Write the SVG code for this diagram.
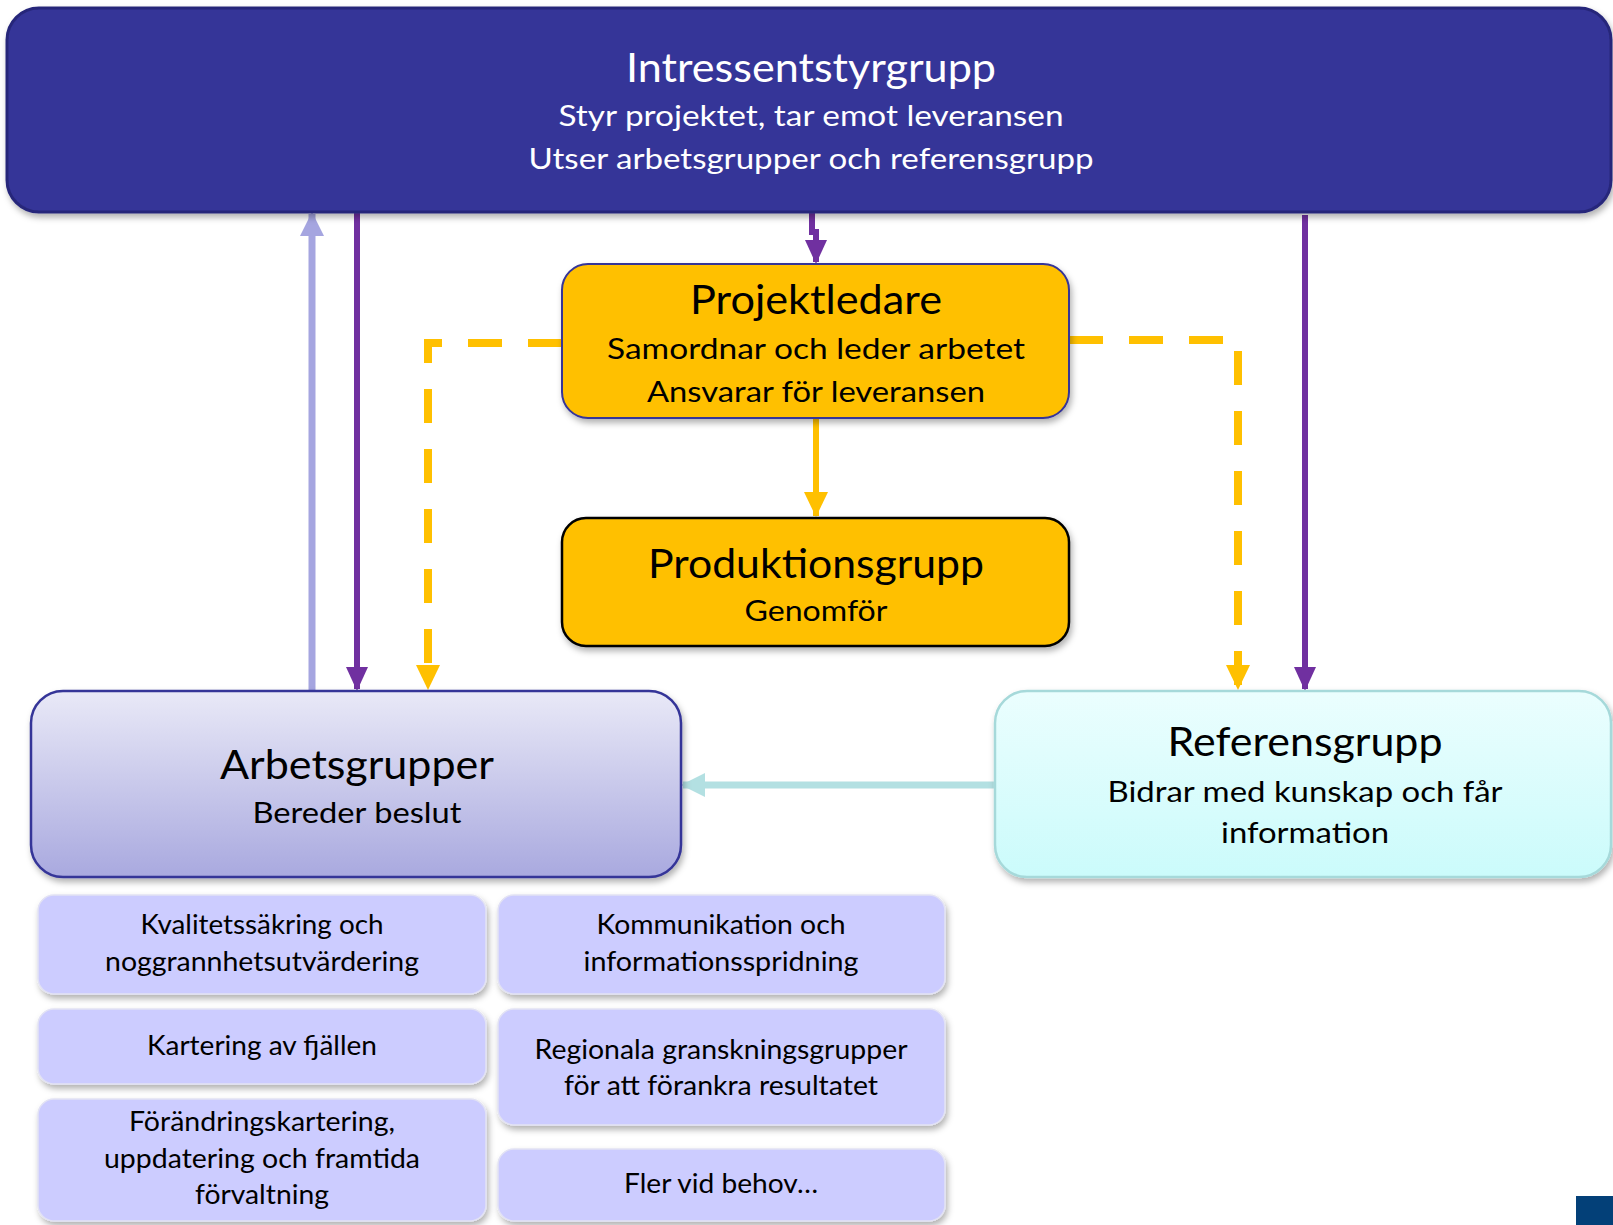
<svg xmlns="http://www.w3.org/2000/svg" width="1613" height="1225" viewBox="0 0 1613 1225">
<defs>
<style>
text{font-family:Lato,"Open Sans","Liberation Sans",sans-serif;text-anchor:middle;fill:#000}
.w{fill:#fff}
.t{font-size:41px}
.s{font-size:29px}
.m{font-size:26px}
.sb{fill:#CCCCFF;stroke:#E2E2F4;stroke-width:1.5}
.pur{stroke:#7030A0;stroke-width:6;fill:none}
.yel{stroke:#FFC000;stroke-width:6;fill:none}
.dash{stroke-width:8;stroke-dasharray:34 26}
</style>
<linearGradient id="gA" x1="0" y1="0" x2="0" y2="1"><stop offset="0" stop-color="#E9E9F7"/><stop offset="1" stop-color="#A9A9DF"/></linearGradient>
<linearGradient id="gR" x1="0" y1="0" x2="0" y2="1"><stop offset="0" stop-color="#EBFEFE"/><stop offset="1" stop-color="#CBFBFB"/></linearGradient>
<filter id="sh" x="-5%" y="-10%" width="110%" height="125%"><feDropShadow dx="2" dy="4" stdDeviation="3" flood-color="#000" flood-opacity="0.3"/></filter>
<marker id="mP" markerUnits="userSpaceOnUse" markerWidth="24" markerHeight="26" refX="22" refY="11" orient="auto"><path d="M0,0 L24,11 L0,22 Z" fill="#7030A0"/></marker>
<marker id="mY" markerUnits="userSpaceOnUse" markerWidth="26" markerHeight="26" refX="24" refY="12" orient="auto"><path d="M0,0 L25,12 L0,24 Z" fill="#FFC000"/></marker>
<marker id="mL" markerUnits="userSpaceOnUse" markerWidth="24" markerHeight="26" refX="22" refY="12" orient="auto"><path d="M0,0 L24,12 L0,24 Z" fill="#A5A5E0"/></marker>
<marker id="mC" markerUnits="userSpaceOnUse" markerWidth="24" markerHeight="26" refX="22" refY="12" orient="auto"><path d="M0,0 L24,12 L0,24 Z" fill="#B3E0E2"/></marker>
</defs>
<rect width="1613" height="1225" fill="#fff"/>

<g id="connectors">
<path d="M312,691 V214" stroke="#A5A5E0" stroke-width="7" fill="none" marker-end="url(#mL)"/>
<path d="M357,212 V689" class="pur" marker-end="url(#mP)"/>
<path d="M812,212 V232 H816 V262" class="pur" marker-end="url(#mP)"/>
<path d="M1305,215 V689" class="pur" marker-end="url(#mP)"/>
<path d="M816,418 V516" class="yel" marker-end="url(#mY)"/>
<path d="M562,343 H428 V689" class="yel dash" marker-end="url(#mY)"/>
<path d="M1069,340 H1238 V689" class="yel dash" marker-end="url(#mY)"/>
<path d="M995,785 H683" stroke="#B3E0E2" stroke-width="7" fill="none" marker-end="url(#mC)"/>
</g>

<g id="intressentstyrgrupp">
<rect x="7" y="8" width="1604" height="204" rx="32" fill="#343498" stroke="#28287A" stroke-width="3" filter="url(#sh)"/>
<text x="811" y="82" class="t w" textLength="370" lengthAdjust="spacingAndGlyphs">Intressentstyrgrupp</text>
<text x="811" y="126" class="s w" textLength="505" lengthAdjust="spacingAndGlyphs">Styr projektet, tar emot leveransen</text>
<text x="811" y="169" class="s w" textLength="565" lengthAdjust="spacingAndGlyphs">Utser arbetsgrupper och referensgrupp</text>
</g>

<g id="projektledare">
<rect x="562" y="264" width="507" height="154" rx="26" fill="#FFC000" stroke="#343498" stroke-width="2" filter="url(#sh)"/>
<text x="816" y="314" class="t" textLength="252" lengthAdjust="spacingAndGlyphs">Projektledare</text>
<text x="816" y="359" class="s" textLength="418" lengthAdjust="spacingAndGlyphs">Samordnar och leder arbetet</text>
<text x="816" y="402" class="s" textLength="338" lengthAdjust="spacingAndGlyphs">Ansvarar för leveransen</text>
</g>

<g id="produktionsgrupp">
<rect x="562" y="518" width="507" height="128" rx="24" fill="#FFC000" stroke="#000" stroke-width="2.5" filter="url(#sh)"/>
<text x="816" y="578" class="t" textLength="336" lengthAdjust="spacingAndGlyphs">Produktionsgrupp</text>
<text x="816" y="621" class="s" textLength="143" lengthAdjust="spacingAndGlyphs">Genomför</text>
</g>

<g id="arbetsgrupper">
<rect x="31" y="691" width="650" height="186" rx="32" fill="url(#gA)" stroke="#343498" stroke-width="2.5" filter="url(#sh)"/>
<text x="357" y="779" class="t" textLength="274" lengthAdjust="spacingAndGlyphs">Arbetsgrupper</text>
<text x="357" y="823" class="s" textLength="209" lengthAdjust="spacingAndGlyphs">Bereder beslut</text>
</g>

<g id="referensgrupp">
<rect x="995" y="691" width="616" height="186" rx="32" fill="url(#gR)" stroke="#A6D9DA" stroke-width="2.5" filter="url(#sh)"/>
<text x="1305" y="756" class="t" textLength="275" lengthAdjust="spacingAndGlyphs">Referensgrupp</text>
<text x="1305" y="802" class="s" textLength="395" lengthAdjust="spacingAndGlyphs">Bidrar med kunskap och får</text>
<text x="1305" y="843" class="s" textLength="168" lengthAdjust="spacingAndGlyphs">information</text>
</g>

<g id="kvalitetssakring">
<rect x="38" y="895" width="448" height="99" rx="16" class="sb" filter="url(#sh)"/>
<text x="262" y="934" class="m" textLength="243" lengthAdjust="spacingAndGlyphs">Kvalitetssäkring och</text>
<text x="262" y="971" class="m" textLength="314" lengthAdjust="spacingAndGlyphs">noggrannhetsutvärdering</text>
</g>

<g id="kommunikation">
<rect x="498" y="895" width="447" height="99" rx="16" class="sb" filter="url(#sh)"/>
<text x="721" y="934" class="m" textLength="249" lengthAdjust="spacingAndGlyphs">Kommunikation och</text>
<text x="721" y="971" class="m" textLength="275" lengthAdjust="spacingAndGlyphs">informationsspridning</text>
</g>

<g id="kartering">
<rect x="38" y="1009" width="448" height="75" rx="16" class="sb" filter="url(#sh)"/>
<text x="262" y="1055" class="m" textLength="230" lengthAdjust="spacingAndGlyphs">Kartering av fjällen</text>
</g>

<g id="forandringskartering">
<rect x="38" y="1099" width="448" height="122" rx="16" class="sb" filter="url(#sh)"/>
<text x="262" y="1131" class="m" textLength="266" lengthAdjust="spacingAndGlyphs">Förändringskartering,</text>
<text x="262" y="1168" class="m" textLength="316" lengthAdjust="spacingAndGlyphs">uppdatering och framtida</text>
<text x="262" y="1204" class="m" textLength="134" lengthAdjust="spacingAndGlyphs">förvaltning</text>
</g>

<g id="regionala">
<rect x="498" y="1009" width="447" height="116" rx="16" class="sb" filter="url(#sh)"/>
<text x="721" y="1059" class="m" textLength="373" lengthAdjust="spacingAndGlyphs">Regionala granskningsgrupper</text>
<text x="721" y="1095" class="m" textLength="314" lengthAdjust="spacingAndGlyphs">för att förankra resultatet</text>
</g>

<g id="fler">
<rect x="498" y="1149" width="447" height="72" rx="16" class="sb" filter="url(#sh)"/>
<text x="721" y="1193" class="m" textLength="194" lengthAdjust="spacingAndGlyphs">Fler vid behov…</text>
</g>

<rect x="1576" y="1196" width="37" height="29" fill="#034078"/>
</svg>
